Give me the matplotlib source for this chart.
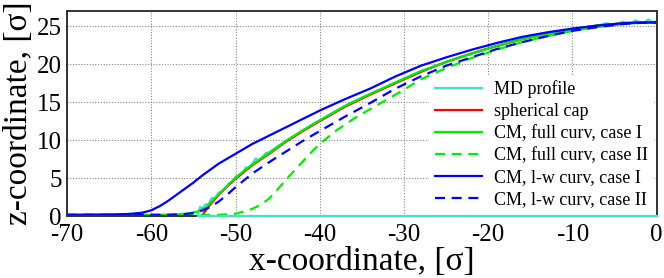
import matplotlib
matplotlib.use("Agg")
import matplotlib.pyplot as plt

plt.rcParams['font.family'] = ['Liberation Serif', 'DejaVu Serif']
plt.rcParams['axes.unicode_minus'] = False

# MD profile (noisy), plus the substrate part at z = 0
md_x = [-54.5, -54.2, -54.0, -53.6, -53.2, -52.8, -52.4, -52.0, -51.6, -51.2, -50.8, -50.4,
        -50.0, -49.6, -49.2, -48.8, -48.4, -48.0, -47.6, -47.2, -46.8, -46.4, -46, -45, -44,
        -43, -42, -41, -40, -38, -36, -34, -32, -30, -28, -26, -24, -22, -20, -18, -16, -14,
        -12, -10, -9, -8, -7, -6, -5, -4, -3, -2.5, -2, -1.5, -1, -0.5, 0]
md_z = [0, 1.2, 0.9, 1.5, 1.6, 2.4, 2.3, 3.1, 3.2, 3.7, 4.3, 4.4, 5.2, 5.3, 5.6, 6.4, 6.3,
        6.9, 7.6, 7.3, 7.8, 8.3, 8.4, 9.2, 9.9, 10.6, 11.3, 12.0, 12.6, 13.9, 15.1, 16.1,
        17.1, 18.1, 19.0, 19.9, 20.7, 21.4, 22.1, 22.7, 23.3, 23.8, 24.2, 24.6, 24.7, 25.0,
        25.1, 25.4, 25.2, 25.6, 25.4, 25.8, 25.5, 25.5, 25.9, 25.6, 25.6]
md_base_x = [-54.5, 0]
md_base_z = [0, 0]

# spherical cap
cap_x = [-54, -53.5, -53, -52, -51, -50, -48, -46, -44, -42, -40, -37, -34, -31, -28, -25,
         -22, -19, -16, -13, -10, -7, -4, -2, 0]
cap_z = [0, 0.8, 1.5, 2.8, 3.9, 4.9, 6.7, 8.2, 9.8, 11.2, 12.5, 14.4, 16.0, 17.5, 19.0,
         20.3, 21.4, 22.4, 23.3, 24.0, 24.6, 25.1, 25.4, 25.5, 25.55]

# CM, full curvature, case I
fc1_x = [-70, -60, -57, -55.5, -54.5, -53.5, -52.5, -51.5, -50.5, -49.5, -48, -46, -44, -42,
         -40, -37, -34, -31, -28, -25, -22, -19, -16, -13, -10, -7, -4, -2, 0]
fc1_z = [0.15, 0.15, 0.2, 0.35, 0.6, 1.1, 2.3, 3.4, 4.5, 5.5, 6.8, 8.3, 9.9, 11.3, 12.6,
         14.5, 16.1, 17.6, 19.1, 20.3, 21.4, 22.4, 23.3, 24.0, 24.6, 25.1, 25.4, 25.5, 25.5]

# CM, full curvature, case II
fc2_x = [-70, -52, -50, -49, -48, -47, -46, -45, -44, -43, -42, -41, -40, -38, -36, -34,
         -31, -28, -25, -22, -19, -16, -13, -10, -7, -4, -2, 0]
fc2_z = [0.15, 0.15, 0.3, 0.6, 0.95, 1.5, 2.3, 3.5, 4.8, 6.0, 7.2, 8.4, 9.5, 11.3, 12.8,
         14.1, 16.0, 18.0, 19.5, 20.8, 21.9, 22.9, 23.7, 24.4, 24.9, 25.3, 25.45, 25.5]

# CM, l-w curvature, case I
lw1_x = [-70, -65, -63, -62, -61, -60, -59, -58, -57, -56, -55, -54, -52, -50, -48, -46,
         -44, -42, -40, -37, -34, -31, -28, -25, -22, -19, -16, -13, -10, -7, -4, -2, 0]
lw1_z = [0.15, 0.2, 0.25, 0.33, 0.45, 0.75, 1.3, 2.0, 2.8, 3.6, 4.4, 5.3, 6.9, 8.2, 9.5,
         10.6, 11.7, 12.8, 13.9, 15.4, 16.8, 18.4, 19.8, 20.9, 21.9, 22.8, 23.6, 24.2,
         24.7, 25.1, 25.4, 25.5, 25.5]

# CM, l-w curvature, case II
lw2_x = [-70, -58, -56, -55, -54, -53, -52, -51, -50, -48, -46, -44, -42, -40, -37, -34,
         -31, -28, -25, -22, -19, -16, -13, -10, -7, -4, -2, 0]
lw2_z = [0.15, 0.15, 0.25, 0.4, 0.7, 1.2, 1.9, 2.8, 3.8, 5.6, 7.1, 8.5, 9.9, 11.2, 13.1,
         14.9, 16.8, 18.4, 19.8, 20.9, 22.0, 22.9, 23.7, 24.4, 24.9, 25.3, 25.45, 25.5]

fig = plt.figure(figsize=(6.64, 2.78), dpi=100)
ax = fig.add_axes([0.101, 0.223, 0.888, 0.737])

md_col = '#40e0d0'
lw = 1.6
ax.plot(md_base_x, md_base_z, color=md_col, lw=lw, clip_on=False, zorder=3)
ax.plot(md_x, md_z, color=md_col, lw=lw, label='MD profile')
ax.plot(cap_x, cap_z, color='#ff0000', lw=lw, label='spherical cap')
ax.plot(fc1_x, fc1_z, color='#00ee00', lw=lw, label='CM, full curv, case I')
ax.plot(fc2_x, fc2_z, color='#00ee00', lw=lw, ls=(0, (4.5, 3)), label='CM, full curv, case II')
ax.plot(lw1_x, lw1_z, color='#0000ff', lw=lw, label='CM, l-w curv, case I')
ax.plot(lw2_x, lw2_z, color='#0000ff', lw=lw, ls=(0, (4.5, 3)), label='CM, l-w curv, case II')

ax.set_xlim(-70, 0)
ax.set_ylim(0, 27)
ax.set_xticks([-70, -60, -50, -40, -30, -20, -10, 0])
ax.set_yticks([0, 5, 10, 15, 20, 25])
ax.tick_params(labelsize=18, direction='in', length=0)
ax.tick_params(axis='x', pad=6)
ax.tick_params(axis='y', pad=4)
ax.grid(True, color='#888888', ls=(0, (1, 1.5)), lw=0.8)
for s in ax.spines.values():
    s.set_color('#333333')
    s.set_linewidth(1.4)

ax.set_xlabel('x-coordinate, [σ]', fontsize=24, labelpad=0)
ax.set_ylabel('z-coordinate, [σ]', fontsize=24, labelpad=2)

leg = ax.legend(loc='lower right', bbox_to_anchor=(0.995, 0.012), fontsize=13,
                labelspacing=0.28, handlelength=2.6, handletextpad=0.7,
                frameon=True, facecolor='white', edgecolor='none', framealpha=1,
                borderpad=0.3, borderaxespad=0)

fig.savefig('out.png', dpi=100)
